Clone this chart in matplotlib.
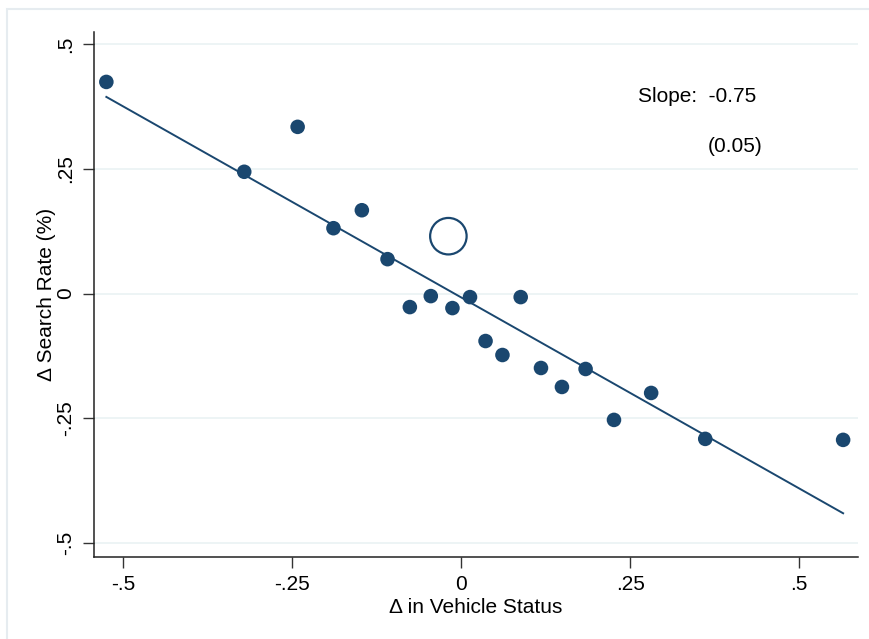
import matplotlib
matplotlib.use("Agg")
import matplotlib.pyplot as plt
from matplotlib.patches import Rectangle

# Data
x_vals = [-0.525, -0.321, -0.242, -0.189, -0.147, -0.109, -0.076, -0.045, -0.013, 0.013,
          0.036, 0.061, 0.088, 0.118, 0.149, 0.184, 0.226, 0.281, 0.361, 0.565]
y_vals = [0.424, 0.244, 0.334, 0.131, 0.167, 0.069, -0.027, -0.005, -0.029, -0.007,
          -0.095, -0.123, -0.007, -0.149, -0.187, -0.151, -0.253, -0.199, -0.291, -0.293]
hollow_x = [-0.019]
hollow_y = [0.115]
fit_x = [-0.525, 0.565]
fit_y = [0.394, -0.440]
xticks = [-0.5, -0.25, 0, 0.25, 0.5]
xtick_labels = ["-.5", "-.25", "0", ".25", ".5"]
yticks = [-0.5, -0.25, 0, 0.25, 0.5]
ytick_labels = ["-.5", "-.25", "0", ".25", ".5"]

plt.rcParams['font.family'] = ['Liberation Sans', 'DejaVu Sans']

navy = '#1a476f'
W, H = 869, 639
fig = plt.figure(figsize=(W/100, H/100), dpi=100)
fig.patch.set_facecolor('white')

# outer graph region frame
fig.add_artist(Rectangle((7.5/W, -0.01), (W-7.5)/W + 0.02, (H-9)/H + 0.01,
                         transform=fig.transFigure, fill=False,
                         edgecolor='#e6ecf0', linewidth=1.5))

ax = fig.add_axes([93.5/W, 1-556.7/H, (858-93.5)/W, (556.7-32)/H])
ax.set_xlim(-0.544, 0.587)
ax.set_ylim(-0.527, 0.524)

for yt in yticks:
    ax.axhline(yt, color='#eaf2f3', linewidth=1.2, zorder=0)

ax.plot(fit_x, fit_y, color=navy, linewidth=1.4, zorder=2)
ax.scatter(x_vals, y_vals, s=110, color=navy, edgecolors='none', zorder=3)
ax.scatter(hollow_x, hollow_y, s=690, facecolors='none', edgecolors=navy,
           linewidths=1.6, zorder=3)

ax.text(0.261, 0.394, "Slope:  -0.75", fontsize=15, va='center', ha='left')
ax.text(0.365, 0.294, "(0.05)", fontsize=15, va='center', ha='left')

ax.set_xticks(xticks)
ax.set_xticklabels(xtick_labels)
ax.set_yticks(yticks)
ax.set_yticklabels(ytick_labels, rotation=90, va='center')
ax.tick_params(axis='both', direction='out', length=8, width=1, labelsize=15,
               color='#333333')
ax.tick_params(axis='x', pad=5)
ax.tick_params(axis='y', pad=5)

for s in ['top', 'right']:
    ax.spines[s].set_visible(False)
for s in ['left', 'bottom']:
    ax.spines[s].set_color('#222222')
    ax.spines[s].set_linewidth(1.1)

ax.set_xlabel("Δ in Vehicle Status", fontsize=15, labelpad=3)
ax.set_ylabel("Δ Search Rate (%)", fontsize=15, labelpad=0)

fig.savefig("out.png", dpi=100, facecolor='white')
